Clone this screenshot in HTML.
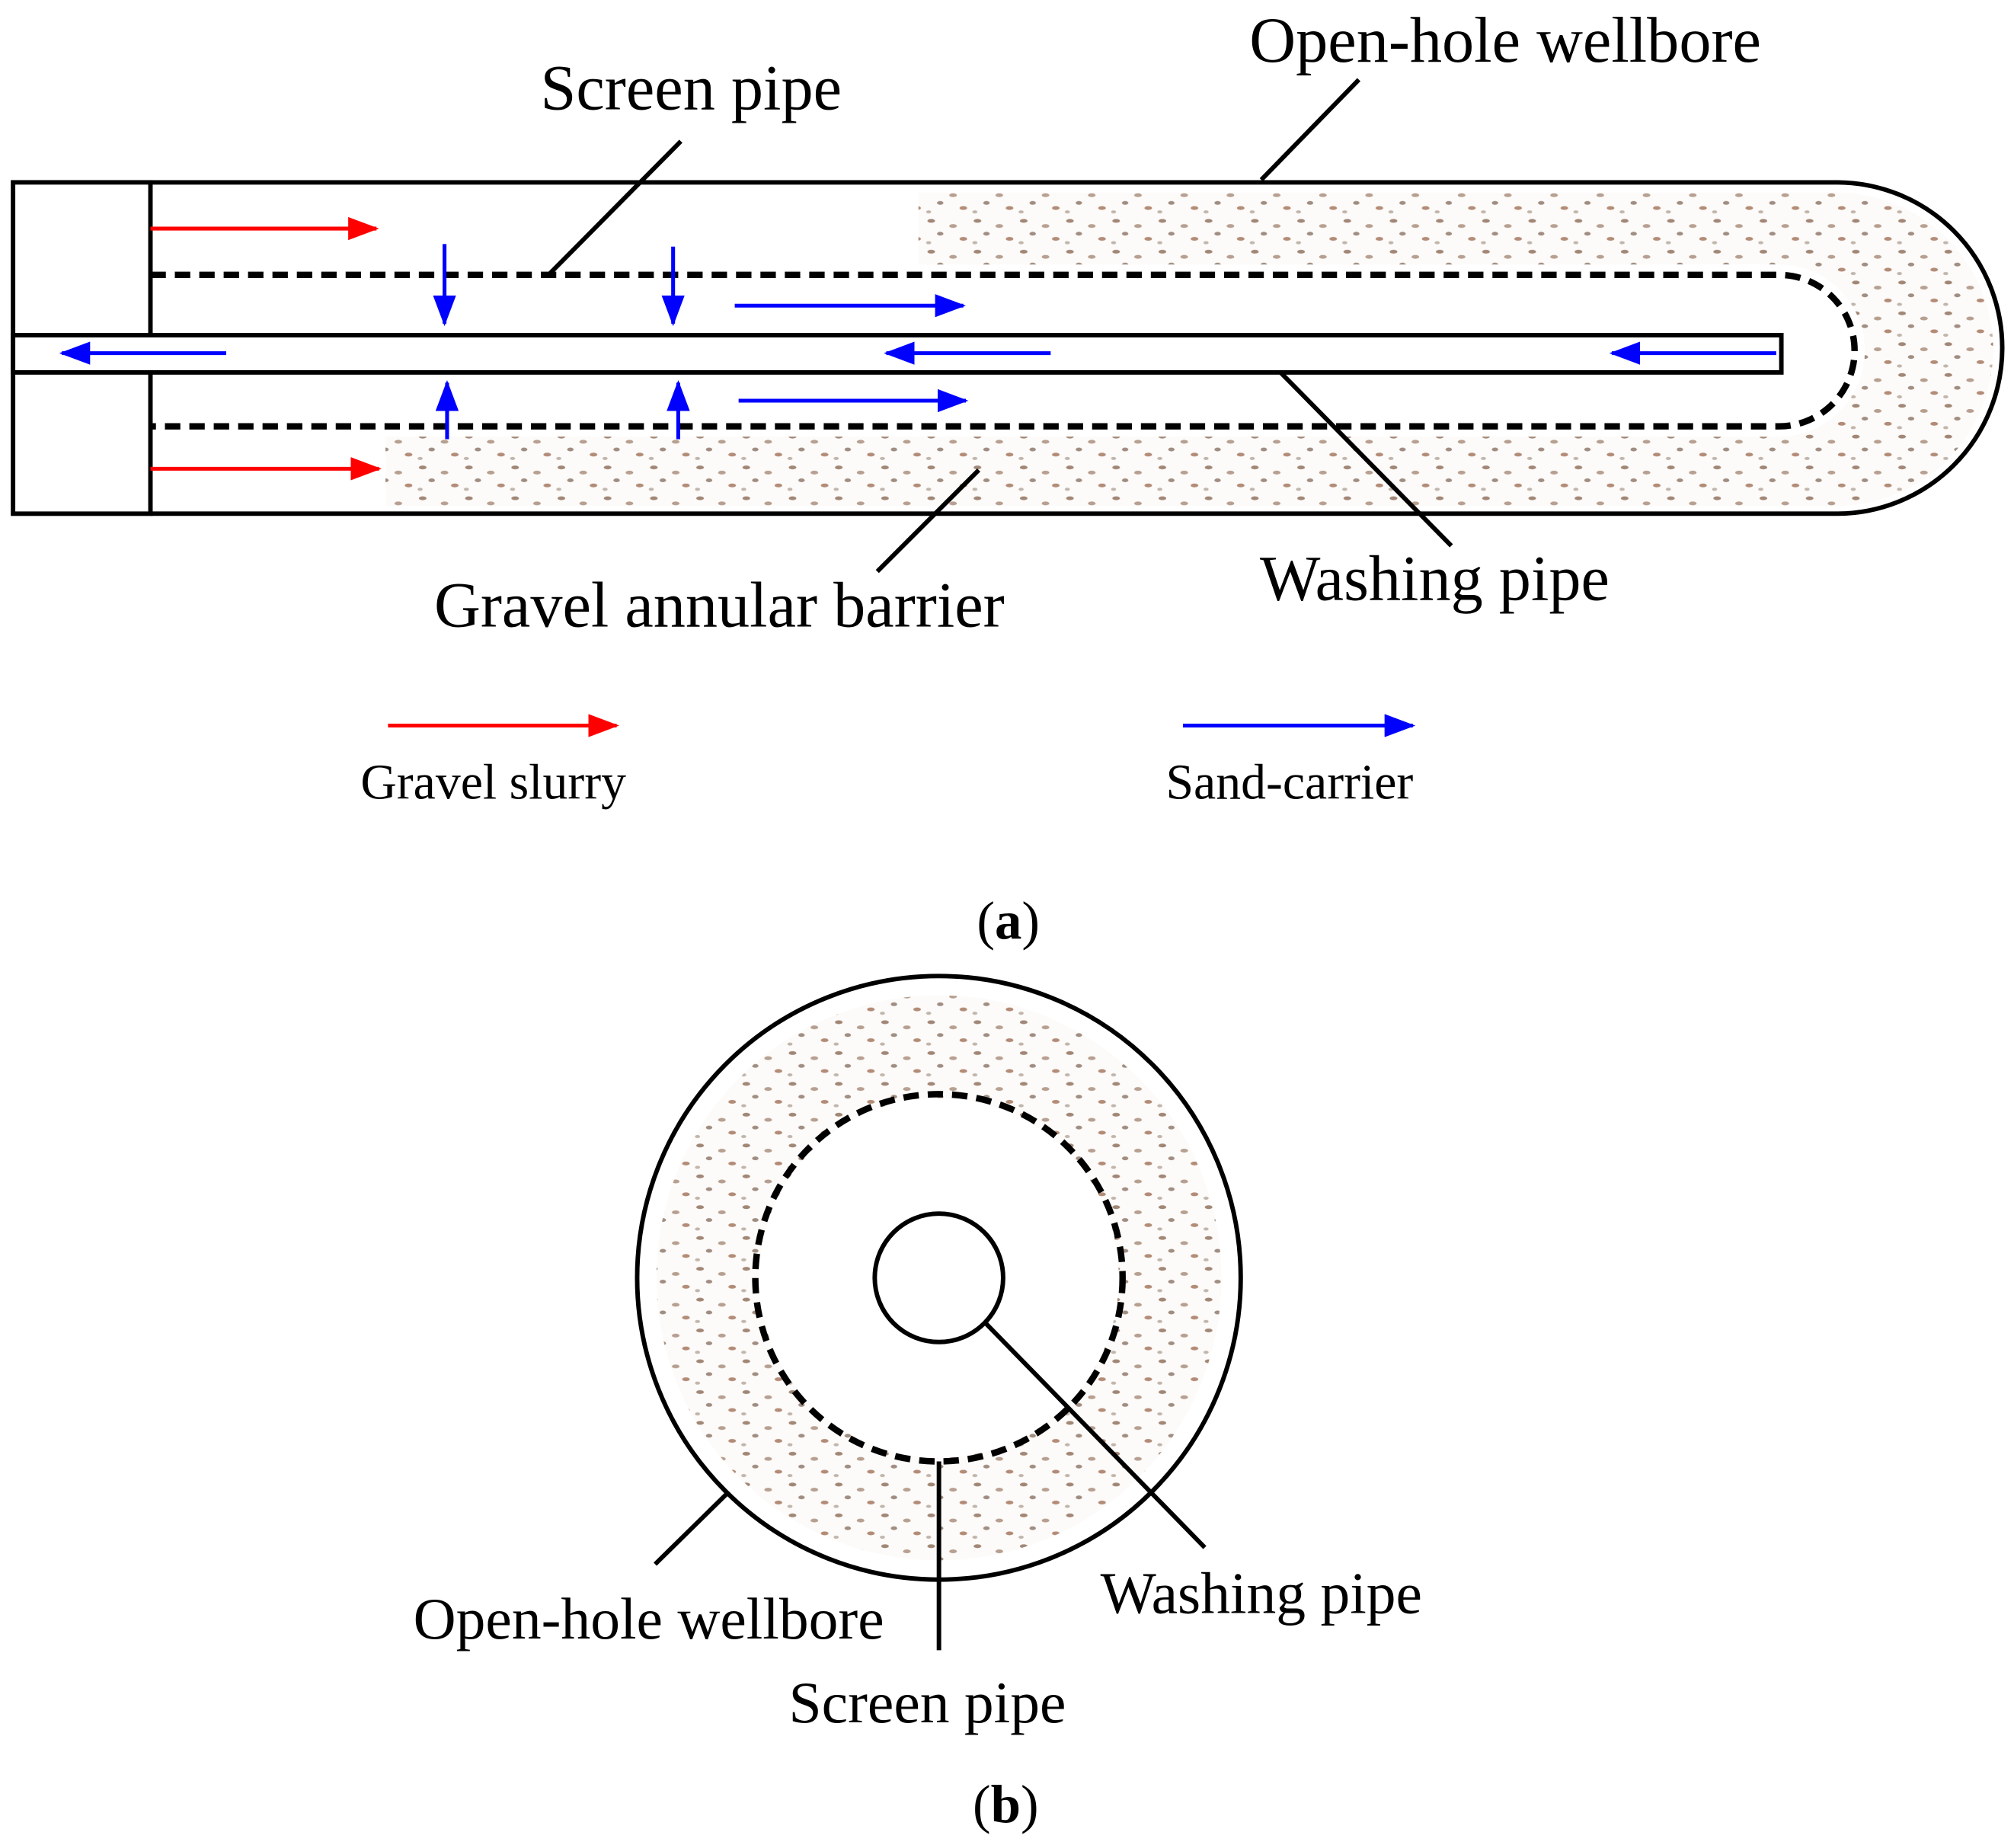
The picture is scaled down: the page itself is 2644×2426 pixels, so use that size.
<!DOCTYPE html>
<html><head><style>
html,body{margin:0;padding:0;background:#fff;}
svg{display:block;}
text{font-family:"Liberation Serif",serif;fill:#000;}
</style></head><body>
<svg width="2644" height="2426" viewBox="0 0 1568 1439" xmlns="http://www.w3.org/2000/svg">
<defs>
<pattern id="g" width="36" height="24" patternUnits="userSpaceOnUse">
<rect width="36" height="24" fill="#fdfbf9"/>
<ellipse cx="5" cy="4" rx="3" ry="1.5" fill="#8a6a55" opacity="0.8"/>
<ellipse cx="22" cy="8" rx="3" ry="1.5" fill="#9a7a65" opacity="0.7"/>
<ellipse cx="12" cy="14" rx="2.5" ry="1.5" fill="#7a6050" opacity="0.7"/>
<ellipse cx="30" cy="18" rx="3" ry="1.5" fill="#a07058" opacity="0.8"/>
<ellipse cx="3" cy="21" rx="2" ry="1.2" fill="#998878" opacity="0.6"/>
</pattern>
<marker id="ar" markerWidth="24" markerHeight="18" refX="22" refY="9" orient="auto" markerUnits="userSpaceOnUse"><path d="M0,0 L24,9 L0,18z" fill="red"/></marker>
<marker id="ab" markerWidth="24" markerHeight="18" refX="22" refY="9" orient="auto" markerUnits="userSpaceOnUse"><path d="M0,0 L24,9 L0,18z" fill="blue"/></marker>
</defs>
<rect x="715" y="150" width="720" height="56" fill="url(#g)"/>
<rect x="300" y="340" width="1135" height="54" fill="url(#g)"/>
<path d="M1390,150 H1430 A121,121 0 0 1 1430,394 H1390z" fill="url(#g)"/>
<path d="M1385,206 A67,67 0 0 1 1385,340 H1300 V206z" fill="#fff"/>
<rect x="10" y="142" width="107" height="258" fill="none" stroke="#000" stroke-width="3.5"/>
<path d="M117,142 H1430 A129,129 0 0 1 1430,400 H117" fill="none" stroke="#000" stroke-width="3.5"/>
<path d="M117,214 H1385 A59,59 0 0 1 1385,332 H117" fill="none" stroke="#000" stroke-width="5" stroke-dasharray="12,7"/>
<rect x="10" y="261" width="1377" height="29" fill="#fff" stroke="#000" stroke-width="3.5"/>
<g stroke-width="3">
<line x1="117" y1="178" x2="293" y2="178" stroke="red" marker-end="url(#ar)"/>
<line x1="117" y1="365" x2="295" y2="365" stroke="red" marker-end="url(#ar)"/>
<line x1="346" y1="190" x2="346" y2="252" stroke="blue" marker-end="url(#ab)"/>
<line x1="524" y1="192" x2="524" y2="252" stroke="blue" marker-end="url(#ab)"/>
<line x1="348" y1="342" x2="348" y2="298" stroke="blue" marker-end="url(#ab)"/>
<line x1="528" y1="342" x2="528" y2="298" stroke="blue" marker-end="url(#ab)"/>
<line x1="572" y1="238" x2="750" y2="238" stroke="blue" marker-end="url(#ab)"/>
<line x1="575" y1="312" x2="752" y2="312" stroke="blue" marker-end="url(#ab)"/>
<line x1="176" y1="275" x2="48" y2="275" stroke="blue" marker-end="url(#ab)"/>
<line x1="818" y1="275" x2="690" y2="275" stroke="blue" marker-end="url(#ab)"/>
<line x1="1383" y1="275" x2="1255" y2="275" stroke="blue" marker-end="url(#ab)"/>
<line x1="302" y1="565" x2="480" y2="565" stroke="red" marker-end="url(#ar)"/>
<line x1="921" y1="565" x2="1100" y2="565" stroke="blue" marker-end="url(#ab)"/>
</g>
<g stroke="#000" stroke-width="3.5">
<line x1="428" y1="213" x2="530" y2="110"/>
<line x1="982" y1="140" x2="1058" y2="62"/>
<line x1="997" y1="290" x2="1130" y2="425"/>
<line x1="683" y1="445" x2="762" y2="366"/>
</g>
<g font-size="50" text-anchor="middle">
<text x="538" y="85">Screen pipe</text>
<text x="1172" y="48">Open-hole wellbore</text>
<text x="1117" y="467">Washing pipe</text>
<text x="560" y="488">Gravel annular barrier</text>
</g>
<g font-size="39" text-anchor="middle">
<text x="384" y="622">Gravel slurry</text>
<text x="1004" y="622">Sand-carrier</text>
</g>
<text x="785" y="731" font-size="42" text-anchor="middle">(<tspan font-weight="bold">a</tspan>)</text>
<circle cx="731" cy="995" r="180" fill="none" stroke="url(#g)" stroke-width="80"/>
<circle cx="731" cy="995" r="235" fill="none" stroke="#000" stroke-width="3.5"/>
<circle cx="731" cy="995" r="140" fill="#fff"/>
<circle cx="731" cy="995" r="143" fill="none" stroke="#000" stroke-width="5" stroke-dasharray="12,7"/>
<circle cx="731" cy="995" r="50" fill="#fff" stroke="#000" stroke-width="3.5"/>
<g stroke="#000" stroke-width="3.5">
<line x1="767" y1="1030" x2="938" y2="1205"/>
<line x1="731" y1="1138" x2="731" y2="1285"/>
<line x1="566" y1="1163" x2="510" y2="1218"/>
</g>
<g font-size="46" text-anchor="middle">
<text x="982" y="1256">Washing pipe</text>
<text x="722" y="1341">Screen pipe</text>
<text x="505" y="1276">Open-hole wellbore</text>
</g>
<text x="783" y="1419" font-size="42" text-anchor="middle">(<tspan font-weight="bold">b</tspan>)</text>
</svg>
</body></html>
